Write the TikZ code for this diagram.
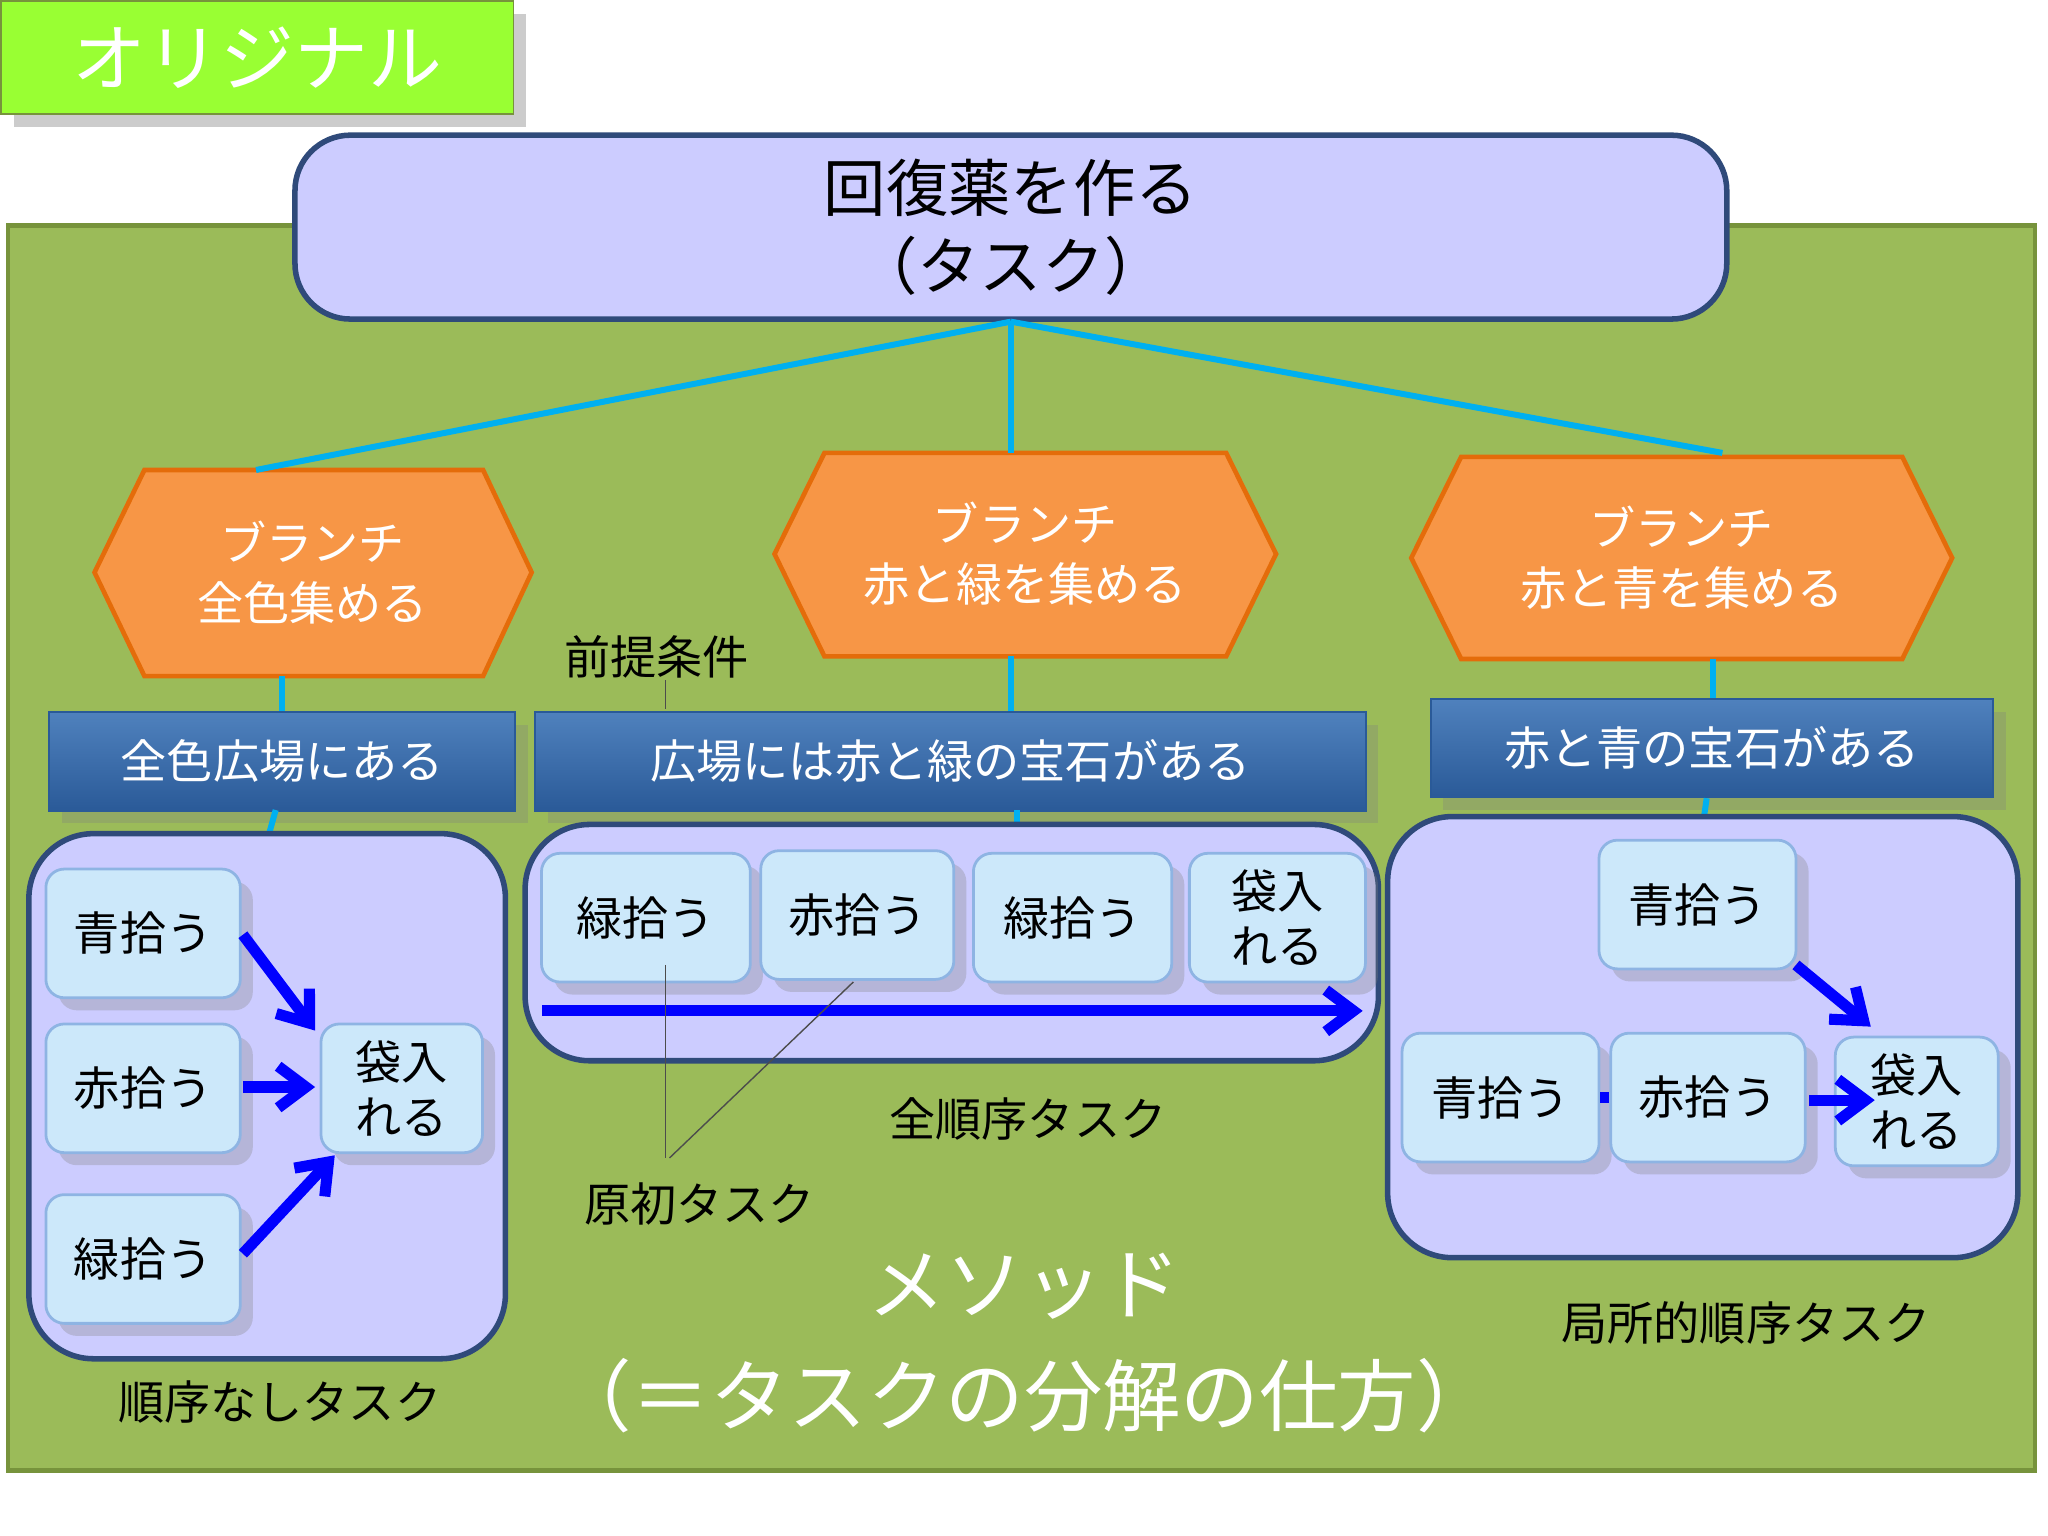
\documentclass[tikz,border=0pt]{standalone}
\usepackage{fontspec}
\setmainfont{Noto Sans CJK JP}
\usetikzlibrary{shapes.geometric,arrows.meta,shadows}
\definecolor{lav}{HTML}{CCCCFF}
\definecolor{lavb}{HTML}{2F4A7A}
\definecolor{bgg}{HTML}{9BBB59}
\definecolor{bggb}{HTML}{77933C}
\definecolor{orf}{HTML}{F79646}
\definecolor{orb}{HTML}{E46C0A}
\definecolor{cy}{HTML}{00B0F0}
\definecolor{barA}{HTML}{4F81BD}
\definecolor{barB}{HTML}{2A5A98}
\definecolor{smf}{HTML}{CCE8FA}
\definecolor{smb}{HTML}{8EB4E3}
\definecolor{lime}{HTML}{99FF33}
\tikzset{
 cont/.style={draw=lavb,line width=1.2pt,fill=lav,rounded corners=14pt},
 sm/.style={draw=smb,line width=0.6pt,fill=smf,rounded corners=4pt,font=\fontsize{10}{12}\selectfont,align=center,drop shadow={opacity=0.3}},
 bar/.style={draw=barB,top color=barA,bottom color=barB,text=white,font=\fontsize{10}{12}\selectfont,drop shadow={opacity=0.3}},
 hexs/.style={draw=orb,line width=1pt,fill=orf,text=white,font=\fontsize{10}{13}\selectfont,align=center},
 cyl/.style={cy,line width=1.3pt},
 bar2/.style={blue,line width=2.4pt,-{Straight Barb[length=6pt,width=9pt]}},
 lbl/.style={font=\fontsize{10}{12}\selectfont},
 thin/.style={draw=gray!60!black,line width=0.3pt}
}
\begin{document}
\begin{tikzpicture}[x=0.01cm,y=-0.01cm]
\useasboundingbox (0,0) rectangle (1560,1170);
\fill[white] (0,0) rectangle (1560,1170);
% green label
\node[draw=bggb,fill=lime,minimum width=3.9cm,minimum height=0.86cm,text=white,font=\fontsize{16}{18}\selectfont,drop shadow={opacity=0.4}] (orig) at (196,44) {オリジナル};
% background
\draw[draw=bggb,fill=bgg,line width=1pt] (6,172) rectangle (1550,1120);
% task
\node[draw=lavb,line width=1.2pt,fill=lav,rounded corners=12pt,minimum width=10.9cm,minimum height=1.4cm,align=center,font=\fontsize{13.5}{17}\selectfont] (task) at (770,173) {回復薬を作る\\（タスク）};
% hexagons
\draw[hexs] (72,436)--(110,358)--(368,358)--(405,436)--(368,515)--(110,515)--cycle;
\draw[hexs] (590,422)--(628,345)--(934,345)--(972,422)--(934,500)--(628,500)--cycle;
\draw[hexs] (1075,425)--(1113,348)--(1449,348)--(1487,425)--(1449,502)--(1113,502)--cycle;
\node[hexs,draw=none,fill=none] (h1) at (238,436) {ブランチ\\全色集める};
\node[hexs,draw=none,fill=none] (h2) at (781,422) {ブランチ\\赤と緑を集める};
\node[hexs,draw=none,fill=none] (h3) at (1281,425) {ブランチ\\赤と青を集める};
\coordinate (t0) at (770,245);
\draw[cyl] (t0)--(195,358); \draw[cyl] (t0)--(770,345); \draw[cyl] (t0)--(1312,345);
\draw[cyl] (215,515)--(215,542); \draw[cyl] (770,500)--(770,542); \draw[cyl] (1305,502)--(1305,533);
% bars
\node[bar,minimum width=3.55cm,minimum height=0.75cm] (b1) at (215,580) {全色広場にある};
\node[bar,minimum width=6.32cm,minimum height=0.75cm] (b2) at (724,580) {広場には赤と緑の宝石がある};
\node[bar,minimum width=4.28cm,minimum height=0.75cm] (b3) at (1304,570) {赤と青の宝石がある};
\draw[cyl] (210,617)--(205,635); \draw[cyl] (775,617)--(775,628); \draw[cyl] (1300,608)--(1298,622);
% containers
\draw[cont] (22,635) rectangle (385,1035);
\draw[cont] (400,628) rectangle (1050,808);
\draw[cont] (1057,622) rectangle (1537,958);
% left
\node[sm,minimum width=1.48cm,minimum height=0.98cm] (l1) at (109,711) {青拾う};
\node[sm,minimum width=1.48cm,minimum height=0.98cm] (l2) at (109,829) {赤拾う};
\node[sm,minimum width=1.48cm,minimum height=0.98cm] (l3) at (109,959) {緑拾う};
\node[sm,minimum width=1.23cm,minimum height=0.98cm] (l4) at (306,829) {袋入\\れる};
\draw[bar2] (185,712)--(240,785);
\draw[bar2] (185,828)--(240,828);
\draw[bar2] (185,955)--(255,880);
% center
\node[sm,minimum width=1.59cm,minimum height=0.98cm] (c1) at (492,699) {緑拾う};
\node[sm,minimum width=1.47cm,minimum height=0.98cm] (c2) at (653,697) {赤拾う};
\node[sm,minimum width=1.51cm,minimum height=0.98cm] (c3) at (817,699) {緑拾う};
\node[sm,minimum width=1.34cm,minimum height=0.98cm] (c4) at (973,699) {袋入\\れる};
\draw[bar2] (413,770)--(1038,770);
% right
\node[sm,minimum width=1.5cm,minimum height=0.98cm] (r1) at (1293,689) {青拾う};
\node[sm,minimum width=1.5cm,minimum height=0.98cm] (r2) at (1143,836) {青拾う};
\node[sm,minimum width=1.48cm,minimum height=0.98cm] (r3) at (1301,836) {赤拾う};
\node[sm,minimum width=1.24cm,minimum height=0.98cm] (r4) at (1460,839) {袋入\\れる};
\draw[bar2] (1368,735)--(1425,782);
\draw[bar2] (1378,838)--(1428,838);
\draw[blue,line width=2.4pt] (r2.east)--(r3.west);
% labels
\node[lbl] (pre) at (500,500) {前提条件};
\draw[thin] (507,518)--(507,540);
\node[lbl] (prim) at (533,917) {原初タスク};
\draw[thin] (507,735)--(507,882);
\draw[thin] (650,748)--(510,882);
\node[lbl] (tot) at (783,852) {全順序タスク};
\node[lbl] (uno) at (213,1068) {順序なしタスク};
\node[lbl] (loc) at (1330,1008) {局所的順序タスク};
\node[font=\fontsize{17}{20}\selectfont,text=white] (m1) at (780,980) {メソッド};
\node[font=\fontsize{17}{20}\selectfont,text=white] (m2) at (780,1063) {（＝タスクの分解の仕方）};
\end{tikzpicture}
\end{document}
